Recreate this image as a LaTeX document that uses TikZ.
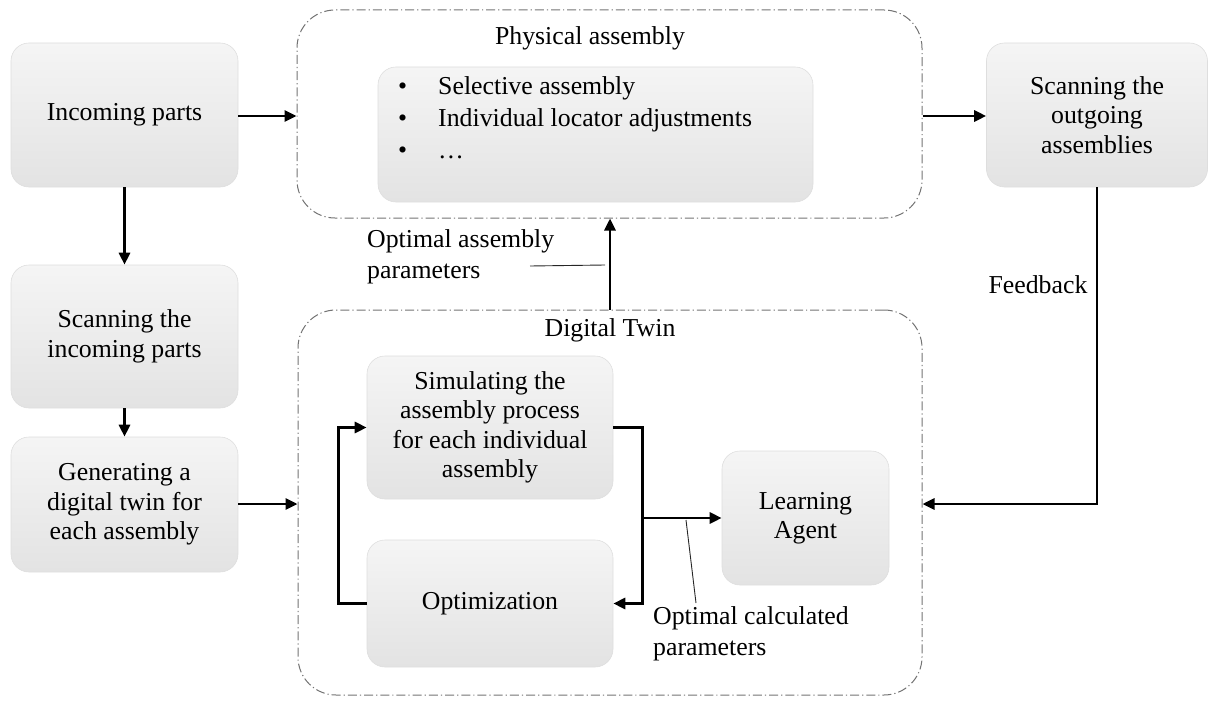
\documentclass[tikz,border=0pt]{standalone}
\usepackage{fontspec}
\setmainfont{Liberation Serif}
\usetikzlibrary{arrows.meta,calc}
\begin{document}
\begin{tikzpicture}[x=1pt,y=-1pt,
  font=\fontsize{25.8}{29.5}\selectfont,
  box/.style={rectangle, rounded corners=18pt, draw=black!13, line width=0.6pt,
    top color=black!4, bottom color=black!11, align=center, inner sep=0pt},
  container/.style={rectangle, rounded corners=38pt, draw=black!55, line width=1pt,
    dash pattern=on 9pt off 3pt on 1.2pt off 3pt, inner sep=0pt},
  conn/.style={line width=2.8pt, -{Triangle[length=12pt,width=11pt]}},
  leader/.style={line width=0.9pt, black!85},
  lbl/.style={inner sep=0pt, align=left}
]
\useasboundingbox (0,0) rectangle (1208,701);

% containers
\node[container, minimum width=625pt, minimum height=208pt] (phys) at (609.5,114) {};
\node[container, minimum width=624pt, minimum height=385pt] (dt) at (610,502.5) {};
\node (physt) at (590,38) {Physical assembly};
\node (dtt) at (610,330) {Digital Twin};

% left column
\node[box, minimum width=227pt, minimum height=144pt] (inc) at (124.5,115) {Incoming parts};
\node[box, minimum width=227pt, minimum height=143pt] (scin) at (124.5,336.5) {Scanning the\\incoming parts};
\node[box, minimum width=227pt, minimum height=135pt] (gen) at (124.5,504.5) {Generating a\\digital twin for\\each assembly};

% right
\node[box, minimum width=221pt, minimum height=144pt] (out) at (1097,115) {Scanning the\\outgoing\\assemblies};

% inner physical box
\node[box, minimum width=435pt, minimum height=135pt] (inner) at (595.5,134.5) {};
\node[anchor=north west, inner sep=0pt, font=\fontsize{25.8}{32}\selectfont] (list) at (398,72)
  {\begin{tabular}{@{}l@{\hspace{31pt}}l@{}}
   \textbullet & Selective assembly\\
   \textbullet & Individual locator adjustments\\
   \textbullet & …
   \end{tabular}};

% digital twin inner boxes
\node[box, minimum width=246pt, minimum height=143pt] (sim) at (490,427.5) {Simulating the\\assembly process\\for each individual\\assembly};
\node[box, minimum width=246pt, minimum height=127pt] (opt) at (490,603.5) {Optimization};
\node[box, minimum width=167pt, minimum height=134pt] (learn) at (805.5,518) {Learning\\Agent};

% labels
\node[lbl, anchor=north west, font=\fontsize{25.8}{31}\selectfont] (oap) at (367,229) {Optimal assembly\\parameters};
\node[lbl, anchor=north west, font=\fontsize{25.8}{31}\selectfont] (ocp) at (653,606) {Optimal calculated\\parameters};
\node[inner sep=0pt] (fb) at (1038,285) {Feedback};

% connectors
\draw[conn] (inc.east |- 0,116) -- (phys.west |- 0,116);
\draw[conn] (inc.south) -- (scin.north);
\draw[conn] (scin.south) -- (gen.north);
\draw[conn] (gen.east |- 0,504) -- (dt.west |- 0,504);
\draw[conn] (phys.east |- 0,116) -- (out.west |- 0,116);
\draw[conn] (out.south) |- (dt.east |- 0,504);
\draw[conn] (dt.north) -- (dt.north |- phys.south);

\draw[conn] (opt.west) -- ++(-28,0) |- (sim.west);
\coordinate (rloop) at ($(sim.east)+(29,0)$);
\draw[conn] (sim.east) -- (rloop) |- (opt.east);
\coordinate (branch) at (rloop |- learn.west);
\draw[conn] (branch) -- (learn.west);

% leaders
\coordinate (la1) at (530,266);
\coordinate (la2) at ($(dt.north |- 0,265)+(-5,0)$);
\draw[leader] (la1) -- (la2);
\coordinate (lb1) at (686,520);
\coordinate (lb2) at (696,603);
\draw[leader] (lb1) -- (lb2);
\end{tikzpicture}
\end{document}
